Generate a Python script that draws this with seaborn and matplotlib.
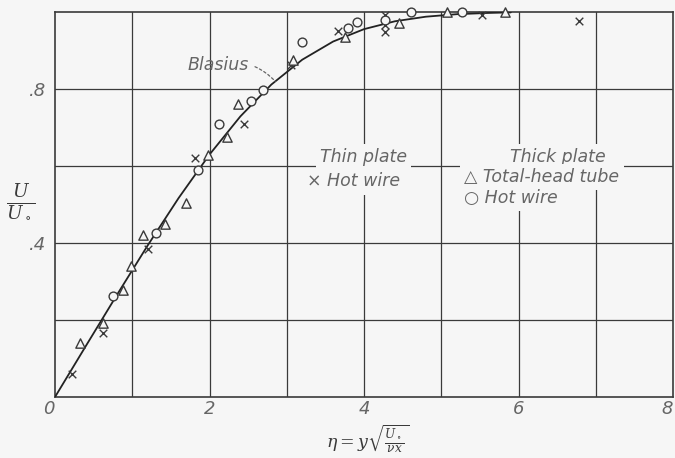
import matplotlib
matplotlib.use("Agg")
import matplotlib.pyplot as plt
import seaborn as sns
import pandas as pd

# Blasius solution (eta, U/U0)
blasius_eta = [0.0, 0.4, 0.8, 1.2, 1.6, 2.0, 2.4, 2.8, 3.2, 3.6, 4.0, 4.4, 4.8, 5.2, 5.6, 5.9]
blasius_u = [0.0, 0.1328, 0.2647, 0.3938, 0.5168, 0.6298, 0.7290, 0.8115, 0.8761, 0.9233,
             0.9555, 0.9759, 0.9878, 0.9943, 0.9975, 0.9990]

# Thin plate, hot wire (x)
thin_hw_eta = [0.22, 0.62, 1.21, 1.81, 2.44, 3.05, 3.66, 4.27, 4.27, 4.27, 5.53, 6.78]
thin_hw_u = [0.06, 0.165, 0.385, 0.62, 0.708, 0.862, 0.951, 0.992, 0.966, 0.948, 0.993, 0.976]

# Thick plate, total-head tube (triangles)
thick_th_eta = [0.32, 0.62, 0.88, 0.99, 1.14, 1.42, 1.69, 1.98, 2.23, 2.37, 3.08, 3.75, 4.45, 5.07, 5.83]
thick_th_u = [0.141, 0.193, 0.278, 0.340, 0.42, 0.449, 0.505, 0.629, 0.676, 0.761, 0.875,
              0.935, 0.972, 1.0, 1.0]

# Thick plate, hot wire (circles)
thick_hw_eta = [0.755, 1.31, 1.855, 2.12, 2.54, 2.69, 3.20, 3.79, 3.91, 4.27, 4.61, 5.27]
thick_hw_u = [0.262, 0.425, 0.590, 0.708, 0.769, 0.797, 0.923, 0.958, 0.975, 0.979, 1.0, 1.0]

x_ticks = [0, 2, 4, 6, 8]
x_tick_labels = ["0", "2", "4", "6", "8"]
y_ticks = [0.4, 0.8]
y_tick_labels = [".4", ".8"]

sns.set_style("white")
plt.rcParams['font.family'] = ['DejaVu Sans']
plt.rcParams['mathtext.fontset'] = 'dejavuserif'

ink = "#3a3a3a"
txt = "#666666"
bg = "#f6f6f6"

fig = plt.figure(figsize=(6.75, 4.58), dpi=100)
fig.patch.set_facecolor(bg)
ax = fig.add_axes([0.0815, 0.1332, 0.9156, 0.8406])
ax.set_facecolor(bg)

ax.set_xlim(0, 8)
ax.set_ylim(0, 1.0)

# grid
for gx in range(1, 8):
    ax.axvline(gx, color=ink, lw=0.9, zorder=1)
for gy in [0.2, 0.4, 0.6, 0.8]:
    ax.axhline(gy, color=ink, lw=0.9, zorder=1)
for s in ax.spines.values():
    s.set_color(ink)
    s.set_linewidth(1.2)

df_b = pd.DataFrame({"eta": blasius_eta, "u": blasius_u})
sns.lineplot(data=df_b, x="eta", y="u", ax=ax, color="#222222", lw=1.3, zorder=3)

df_x = pd.DataFrame({"eta": thin_hw_eta, "u": thin_hw_u})
df_t = pd.DataFrame({"eta": thick_th_eta, "u": thick_th_u})
df_o = pd.DataFrame({"eta": thick_hw_eta, "u": thick_hw_u})
sns.scatterplot(data=df_x, x="eta", y="u", ax=ax, marker="x", s=30, color=ink,
                linewidth=1.0, zorder=4, clip_on=False)
sns.scatterplot(data=df_t, x="eta", y="u", ax=ax, marker="^", s=45, facecolor=bg,
                edgecolor=ink, linewidth=1.0, zorder=4, clip_on=False)
sns.scatterplot(data=df_o, x="eta", y="u", ax=ax, marker="o", s=40, facecolor=bg,
                edgecolor=ink, linewidth=1.0, zorder=4, clip_on=False)

ax.set_xticks(x_ticks)
ax.set_xticklabels(x_tick_labels)
ax.set_yticks(y_ticks)
ax.set_yticklabels(y_tick_labels)
ax.tick_params(axis="both", length=0, labelsize=13, labelcolor=txt)
for lab in ax.get_xticklabels() + ax.get_yticklabels():
    lab.set_fontstyle("italic")
xl = ax.get_xticklabels()
xl[0].set_horizontalalignment("right")
xl[-1].set_horizontalalignment("right")
ax.tick_params(axis="x", pad=2)
ax.tick_params(axis="y", pad=6)
ax.set_xlabel("")
ax.set_ylabel("")

box = dict(facecolor=bg, edgecolor="none", pad=3)
fs = 12.5
ax.text(3.43, 0.623, "Thin plate", fontsize=fs, style="italic", color=txt, va="center",
        ha="left", bbox=box, zorder=5)
ax.text(3.26, 0.560, "× Hot wire", fontsize=fs, style="italic", color=txt, va="center",
        ha="left", bbox=box, zorder=5)
ax.text(5.89, 0.623, "Thick plate", fontsize=fs, style="italic", color=txt, va="center",
        ha="left", bbox=box, zorder=5)
ax.text(5.30, 0.571, "△ Total-head tube", fontsize=fs, style="italic", color=txt,
        va="center", ha="left", bbox=box, zorder=5)
ax.text(5.30, 0.517, "○ Hot wire", fontsize=fs, style="italic", color=txt, va="center",
        ha="left", bbox=box, zorder=5)

ax.annotate("Blasius", xy=(2.85, 0.82), xytext=(1.72, 0.862), fontsize=fs, style="italic",
            color=txt, va="center", ha="left", zorder=5,
            arrowprops=dict(arrowstyle="-", linestyle=(0, (2, 2)), color=txt, lw=0.9,
                            connectionstyle="arc3,rad=-0.3", shrinkA=2, shrinkB=0))

fig.text(21 / 675, 1 - 202 / 458, r"$\frac{U}{U_\circ}$", fontsize=19, color=ink,
         ha="center", va="center")
fig.text(368 / 675, 1 - 439 / 458, r"$\eta = y\sqrt{\frac{U_\circ}{\nu x}}$", fontsize=12.5,
         color=ink, ha="center", va="center")

fig.savefig("out.png", dpi=100, facecolor=fig.get_facecolor())
